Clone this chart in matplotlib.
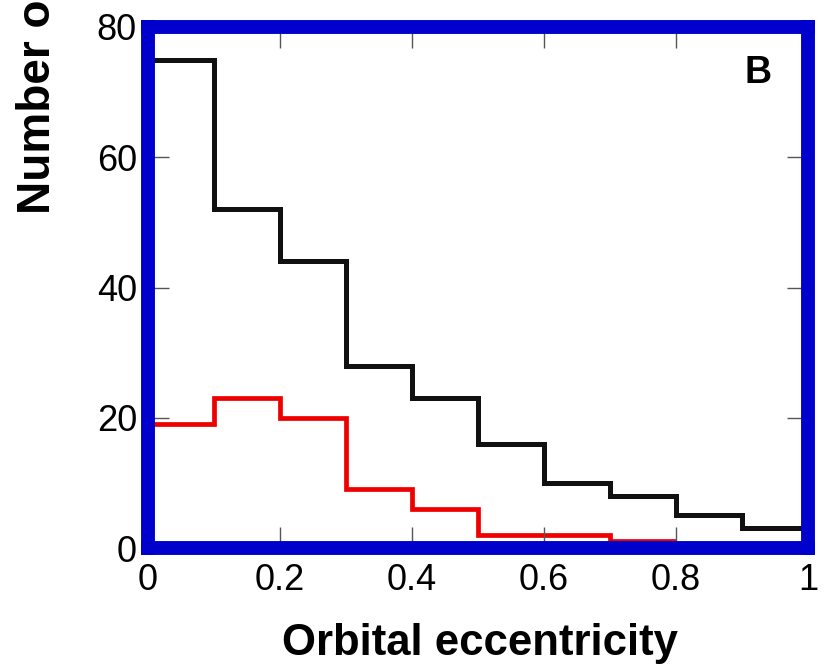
import matplotlib.pyplot as plt
import numpy as np

plt.rcParams['font.family'] = ['Liberation Sans', 'DejaVu Sans']

# histogram bins (eccentricity) and counts
edges_all = np.round(np.arange(0, 1.01, 0.1), 2)
counts_all = [75, 52, 44, 28, 23, 16, 10, 8, 5, 3]
edges_sub = np.round(np.arange(0, 0.81, 0.1), 2)
counts_sub = [19, 23, 20, 9, 6, 2, 2, 1]

xticks = [0, 0.2, 0.4, 0.6, 0.8, 1]
xticklabels = ['0', '0.2', '0.4', '0.6', '0.8', '1']
yticks = [0, 20, 40, 60, 80]

fig = plt.figure(figsize=(8.3, 6.67), dpi=100)
ax = fig.add_axes([148 / 830, 119 / 667, 660 / 830, 521 / 667])

ax.stairs(counts_all, edges_all, baseline=None, color='#111111', linewidth=3.6)
ax.stairs(counts_sub, edges_sub, baseline=None, color='#ee0000', linewidth=3.4)

ax.set_xlim(0, 1)
ax.set_ylim(0, 80)
ax.set_xticks(xticks)
ax.set_xticklabels(xticklabels)
ax.set_yticks(yticks)

for sp in ax.spines.values():
    sp.set_color('#0000cc')
    sp.set_linewidth(10)
    sp.set_zorder(5)

ax.tick_params(direction='in', length=15, width=1, color='#555555',
               top=True, right=True, labelsize=26)
ax.tick_params(axis='x', pad=11)
ax.tick_params(axis='y', pad=8)

fig.text(480 / 830, 1 - 643 / 667, 'Orbital eccentricity',
         fontsize=31.5, fontweight='bold', ha='center', va='center')
fig.text(38 / 830, 1 - 214 / 667, 'Number of planets', rotation=90,
         fontsize=33, fontweight='bold', ha='center', va='bottom')

ax.text(758 / 830, 1 - 73 / 667, 'B', transform=fig.transFigure,
        fontsize=27, fontweight='bold', ha='center', va='center')

fig.savefig('out.png', dpi=100)
